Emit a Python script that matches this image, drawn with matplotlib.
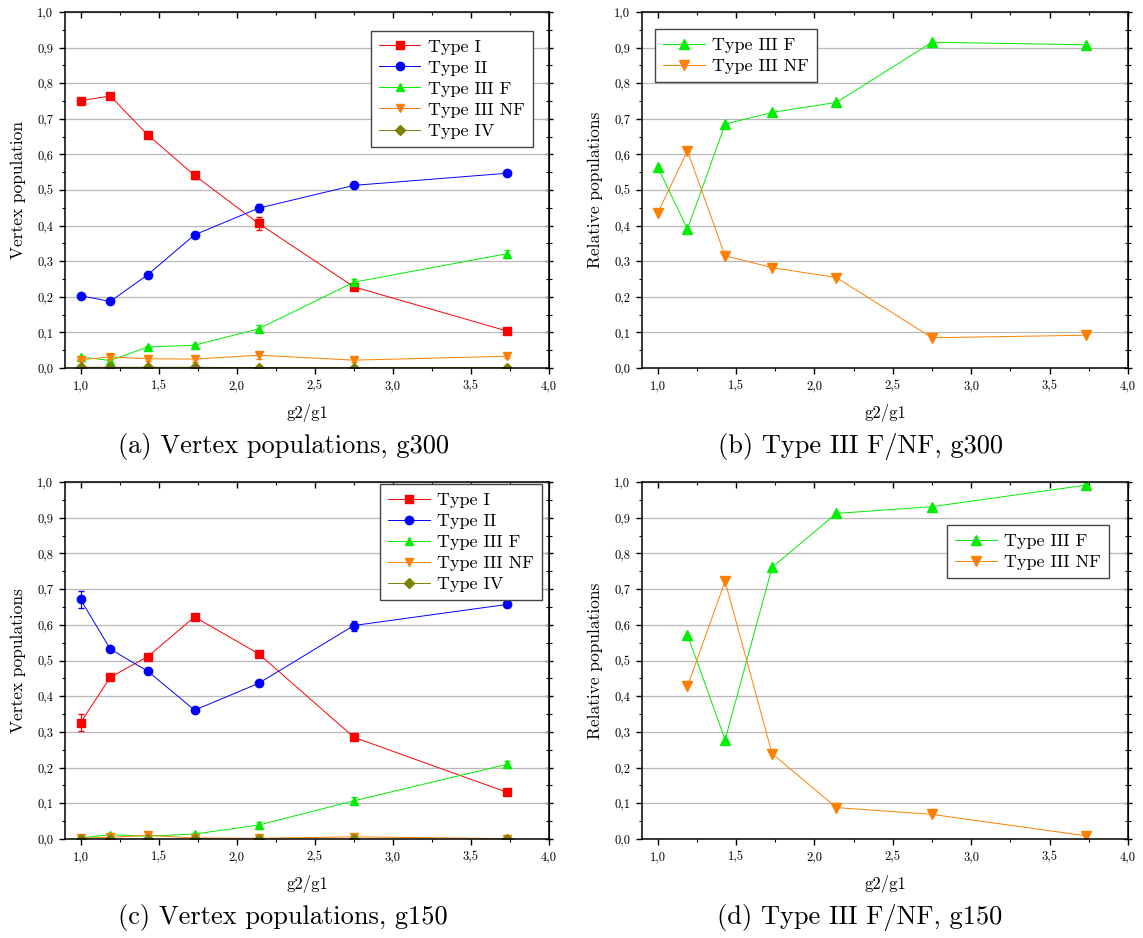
import numpy as np
import matplotlib
matplotlib.use('Agg')
import matplotlib.pyplot as plt
from matplotlib import rcParams
from matplotlib.ticker import MultipleLocator, FuncFormatter

rcParams['font.family'] = 'serif'
rcParams['font.serif'] = ['cmr10', 'DejaVu Serif']
rcParams['axes.formatter.use_mathtext'] = True
rcParams['font.size'] = 9

# ---- data ----
ratio = [1.0, 1.19, 1.43, 1.73, 2.14, 2.75, 3.73]

# (a) g300
g300_type1 = [0.751, 0.764, 0.655, 0.541, 0.406, 0.228, 0.104]
g300_type1_err = [0.004, 0.006, 0.006, 0.009, 0.018, 0.005, 0.004]
g300_type2 = [0.203, 0.187, 0.262, 0.374, 0.449, 0.513, 0.547]
g300_type2_err = [0.004, 0.005, 0.009, 0.007, 0.012, 0.005, 0.005]
g300_type3f = [0.031, 0.021, 0.059, 0.064, 0.110, 0.241, 0.321]
g300_type3f_err = [0.003, 0.003, 0.004, 0.004, 0.010, 0.008, 0.010]
g300_type3nf = [0.023, 0.031, 0.026, 0.025, 0.036, 0.022, 0.033]
g300_type3nf_err = [0.003, 0.006, 0.006, 0.008, 0.010, 0.006, 0.006]
g300_type4 = [0.002, 0.002, 0.002, 0.002, 0.001, 0.001, 0.001]

# (b) g300 relative
g300_rel_f = [0.565, 0.390, 0.685, 0.718, 0.746, 0.915, 0.908]
g300_rel_nf = [0.435, 0.610, 0.315, 0.282, 0.254, 0.085, 0.092]

# (c) g150
g150_type1 = [0.326, 0.453, 0.511, 0.622, 0.519, 0.285, 0.131]
g150_type1_err = [0.023, 0.007, 0.008, 0.008, 0.006, 0.006, 0.005]
g150_type2 = [0.671, 0.532, 0.470, 0.361, 0.436, 0.598, 0.657]
g150_type2_err = [0.025, 0.008, 0.008, 0.006, 0.007, 0.014, 0.007]
g150_type3f = [0.003, 0.012, 0.008, 0.014, 0.039, 0.107, 0.209]
g150_type3f_err = [0.002, 0.005, 0.006, 0.004, 0.010, 0.010, 0.010]
g150_type3nf = [0.002, 0.005, 0.010, 0.003, 0.002, 0.006, 0.001]
g150_type3nf_err = [0.001, 0.004, 0.008, 0.003, 0.002, 0.008, 0.001]
g150_type4 = [0.001, 0.001, 0.001, 0.001, 0.001, 0.001, 0.001]

# (d) g150 relative
g150_rel_x = [1.19, 1.43, 1.73, 2.14, 2.75, 3.73]
g150_rel_f = [0.572, 0.278, 0.761, 0.912, 0.931, 0.991]
g150_rel_nf = [0.428, 0.722, 0.239, 0.088, 0.069, 0.009]

c_red = '#ff0000'
c_blue = '#0000ff'
c_green = '#00ee00'
c_orange = '#ff8000'
c_olive = '#808000'


def comma(v, pos):
    return ('%.1f' % v).replace('.', ',')


def style_axes(ax, ylabel):
    ax.set_xlim(0.9, 4.0)
    ax.set_ylim(0.0, 1.0)
    ax.xaxis.set_major_locator(MultipleLocator(0.5))
    ax.xaxis.set_minor_locator(MultipleLocator(0.25))
    ax.yaxis.set_major_locator(MultipleLocator(0.1))
    ax.yaxis.set_minor_locator(MultipleLocator(0.05))
    ax.xaxis.set_major_formatter(FuncFormatter(comma))
    ax.yaxis.set_major_formatter(FuncFormatter(comma))
    ax.tick_params(which='both', direction='out', top=False, right=False)
    ax.tick_params(which='major', length=4.5, width=1.0, pad=4)
    ax.tick_params(which='minor', length=2.5, width=0.8)
    # mirrored ticks on the right and top
    sec = ax.secondary_yaxis('right')
    sec.yaxis.set_major_locator(MultipleLocator(0.1))
    sec.yaxis.set_minor_locator(MultipleLocator(0.05))
    sec.tick_params(which='both', direction='inout', labelright=False)
    sec.tick_params(which='major', length=6, width=1.0)
    sec.tick_params(which='minor', length=4, width=0.8)
    sec2 = ax.secondary_xaxis('top')
    sec2.xaxis.set_major_locator(MultipleLocator(0.5))
    sec2.xaxis.set_minor_locator(MultipleLocator(0.25))
    sec2.tick_params(which='both', direction='in', labeltop=False)
    sec2.tick_params(which='major', length=4, width=1.0)
    sec2.tick_params(which='minor', length=2.5, width=0.8)
    ax.yaxis.grid(True, which='major', color='#b8b8b8', lw=0.9)
    ax.set_axisbelow(True)
    for s in ax.spines.values():
        s.set_linewidth(1.1)
    ax.set_ylabel(ylabel, fontsize=12.5, labelpad=8)
    ax.set_xlabel('g2/g1', fontsize=12, labelpad=9)


def series(ax, x, y, err, color, marker, label, ms=6):
    ax.plot(x, y, color=color, marker=marker, ms=ms, lw=0.7, label=label)
    if err is not None:
        ax.errorbar(x, y, yerr=err, fmt='none', ecolor=color,
                    elinewidth=0.8, capsize=2)


fig = plt.figure(figsize=(11.43, 9.38), dpi=100)
W, H = 1143., 938.


def add_ax(l, t, r, b):
    return fig.add_axes([l / W, 1 - b / H, (r - l) / W, (b - t) / H])


ax_a = add_ax(65, 12, 549, 368)
ax_b = add_ax(642, 12, 1128, 368)
ax_c = add_ax(65, 482, 549, 839)
ax_d = add_ax(642, 482, 1128, 839)

leg_kw = dict(fontsize=13, handlelength=2.3, handletextpad=0.4, labelspacing=0.3,
              borderaxespad=0, fancybox=False, edgecolor='#444444', framealpha=1,
              borderpad=0.45)

# (a)
series(ax_a, ratio, g300_type1, g300_type1_err, c_red, 's', 'Type I')
series(ax_a, ratio, g300_type2, g300_type2_err, c_blue, 'o', 'Type II')
series(ax_a, ratio, g300_type3f, g300_type3f_err, c_green, '^', 'Type III F')
series(ax_a, ratio, g300_type3nf, g300_type3nf_err, c_orange, 'v', 'Type III NF')
series(ax_a, ratio, g300_type4, None, c_olive, 'D', 'Type IV', ms=5.5)
style_axes(ax_a, 'Vertex population')
ax_a.legend(loc='upper right', bbox_to_anchor=(0.966, 0.947), **leg_kw)

# (b)
series(ax_b, ratio, g300_rel_f, None, c_green, '^', 'Type III F', ms=6.5)
series(ax_b, ratio, g300_rel_nf, None, c_orange, 'v', 'Type III NF', ms=6.5)
style_axes(ax_b, 'Relative populations')
ax_b.legend(loc='upper left', bbox_to_anchor=(0.027, 0.952), **leg_kw)

# (c)
series(ax_c, ratio, g150_type1, g150_type1_err, c_red, 's', 'Type I')
series(ax_c, ratio, g150_type2, g150_type2_err, c_blue, 'o', 'Type II')
series(ax_c, ratio, g150_type3f, g150_type3f_err, c_green, '^', 'Type III F')
series(ax_c, ratio, g150_type3nf, g150_type3nf_err, c_orange, 'v', 'Type III NF')
series(ax_c, ratio, g150_type4, None, c_olive, 'D', 'Type IV', ms=5.5)
style_axes(ax_c, 'Vertex populations')
ax_c.legend(loc='upper right', bbox_to_anchor=(0.986, 0.994), **leg_kw)

# (d)
series(ax_d, g150_rel_x, g150_rel_f, None, c_green, '^', 'Type III F', ms=6.5)
series(ax_d, g150_rel_x, g150_rel_nf, None, c_orange, 'v', 'Type III NF', ms=6.5)
style_axes(ax_d, 'Relative populations')
ax_d.legend(loc='upper right', bbox_to_anchor=(0.961, 0.879), **leg_kw)

# captions
cap_kw = dict(ha='center', va='center', fontsize=19)
fig.text(283 / W, 1 - 447 / H, '(a) Vertex populations, g300', **cap_kw)
fig.text(860 / W, 1 - 447 / H, '(b) Type III F/NF, g300', **cap_kw)
fig.text(283 / W, 1 - 917 / H, '(c) Vertex populations, g150', **cap_kw)
fig.text(860 / W, 1 - 917 / H, '(d) Type III F/NF, g150', **cap_kw)

fig.savefig('out.png', dpi=100)
